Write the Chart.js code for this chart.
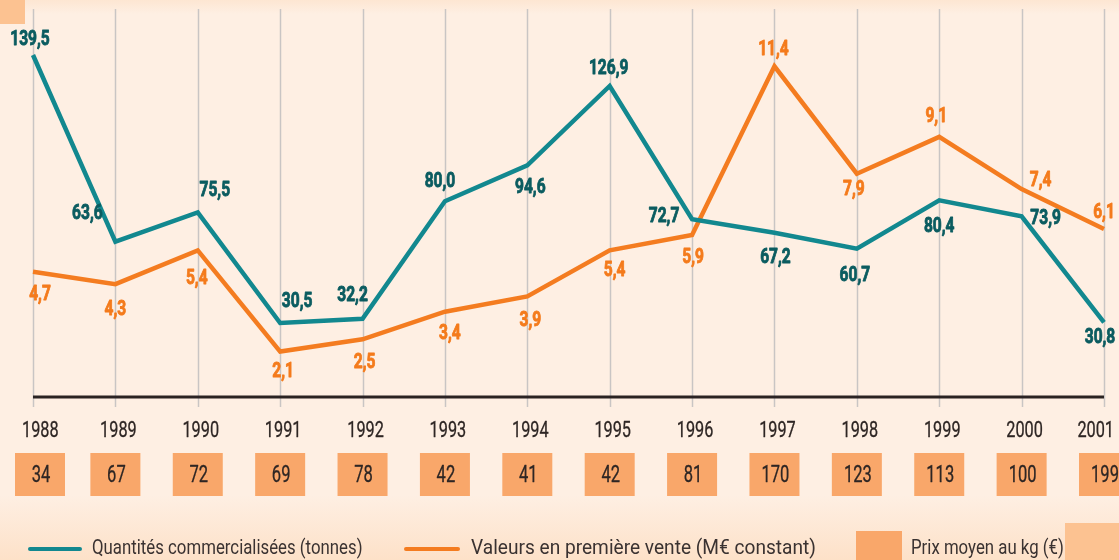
<!DOCTYPE html>
<html>
<head>
<meta charset="utf-8">
<script src="https://cdn.jsdelivr.net/npm/chart.js@4/dist/chart.umd.min.js"></script>
<style>
  html, body { margin: 0; padding: 0; background: #feefe3; }
  #wrap { width: 1119px; height: 560px; position: relative; }
</style>
</head>
<body>
<div id="wrap"><canvas id="chart" width="1119" height="560"></canvas></div>
<script>
const years = ["1988", "1989", "1990", "1991", "1992", "1993", "1994", "1995", "1996", "1997", "1998", "1999", "2000", "2001"];
const quantites = [139.5, 63.6, 75.5, 30.5, 32.2, 80.0, 94.6, 126.9, 72.7, 67.2, 60.7, 80.4, 73.9, 30.8];
const valeurs = [4.7, 4.3, 5.4, 2.1, 2.5, 3.4, 3.9, 5.4, 5.9, 11.4, 7.9, 9.1, 7.4, 6.1];
const prixKg = [34, 67, 72, 69, 78, 42, 41, 42, 81, 170, 123, 113, 100, 199];

const TEAL = "#12888f";
const TEAL_TXT = "#0b5c60";
const ORANGE = "#f47c20";
const ORANGE_TXT = "#f47b1c";
const BOX = "#f9a76a";
const INK = "#2e2624";

// where each value label sits relative to its point (px)
const offsQ = [[-3,-15],[-28,-28],[17,-22],[17,-21],[-10,-23],[-5,-20],[3,22],[-1,-17],[-28,-2],[1,25],[-2,27],[0,26],[24,2],[-4,15]];
const offsV = [[7,23],[0,26],[-1,28],[3,20],[2,23],[5,22],[3,24],[5,20],[1,23],[-1,-17],[-3,16],[-3,-20],[19,-8],[0,-16]];

function fmt(v) { return v.toFixed(1).replace(".", ","); }

// condensed text: draw with a horizontal squeeze
function txt(ctx, s, x, y, font, color, sx, align, thick) {
  ctx.save();
  ctx.font = font;
  ctx.fillStyle = color;
  ctx.textBaseline = "middle";
  ctx.textAlign = "left";
  const w = ctx.measureText(s).width * sx;
  const left = align === "left" ? x : align === "right" ? x - w : x - w / 2;
  ctx.translate(left, y);
  ctx.scale(sx, 1);
  ctx.fillText(s, 0, 0);
  if (thick) {
    ctx.strokeStyle = color;
    ctx.lineWidth = thick;
    ctx.lineJoin = "round";
    ctx.strokeText(s, 0, 0);
  }
  ctx.restore();
}

const decor = {
  id: "decor",
  beforeDraw(chart) {
    const ctx = chart.ctx;
    ctx.save();
    ctx.fillStyle = "#feefe3";
    ctx.fillRect(0, 0, 1119, 560);
    let g = ctx.createLinearGradient(0, 0, 0, 14);
    g.addColorStop(0, "#fde6d2");
    g.addColorStop(1, "#feefe3");
    ctx.fillStyle = g;
    ctx.fillRect(0, 0, 1119, 14);
    g = ctx.createLinearGradient(0, 495, 0, 560);
    g.addColorStop(0, "#feefe3");
    g.addColorStop(1, "#fde1c8");
    ctx.fillStyle = g;
    ctx.fillRect(0, 495, 1119, 65);
    ctx.fillStyle = "#fcc291";
    ctx.fillRect(0, 0, 25, 24);
    ctx.fillRect(1065, 523, 54, 37);
    ctx.restore();
  },
  beforeDatasetsDraw(chart) {
    const ctx = chart.ctx;
    const xs = chart.scales.x;
    const area = chart.chartArea;
    ctx.save();
    ctx.strokeStyle = "#c9c5c4";
    ctx.lineWidth = 1.5;
    years.forEach((y, i) => {
      const x = Math.round(xs.getPixelForValue(i)) + 0.5;
      ctx.beginPath();
      ctx.moveTo(x, area.top);
      ctx.lineTo(x, area.bottom + 9);
      ctx.stroke();
    });
    ctx.strokeStyle = "#2a2322";
    ctx.lineWidth = 3;
    ctx.beginPath();
    ctx.moveTo(xs.getPixelForValue(0), area.bottom - 1);
    ctx.lineTo(xs.getPixelForValue(years.length - 1), area.bottom - 1);
    ctx.stroke();
    ctx.restore();
  },
  afterDatasetsDraw(chart) {
    const ctx = chart.ctx;
    const xs = chart.scales.x;
    const bold = "bold 21px Roboto";
    const reg = "22px Roboto";
    [[0, quantites, offsQ, TEAL_TXT], [1, valeurs, offsV, ORANGE_TXT]].forEach(([di, vals, offs, col]) => {
      const meta = chart.getDatasetMeta(di);
      meta.data.forEach((pt, i) => {
        txt(ctx, fmt(vals[i]), pt.x + offs[i][0], pt.y + offs[i][1], bold, col, 0.74, "center", 0.9);
      });
    });
    years.forEach((y, i) => {
      const gx = xs.getPixelForValue(i);
      if (i === 0) txt(ctx, y, 22, 431, reg, INK, 0.74, "left", 0.3);
      else if (i === years.length - 1) txt(ctx, y, 1114, 431, reg, INK, 0.74, "right", 0.3);
      else txt(ctx, y, gx + 3, 431, reg, INK, 0.74, "center", 0.3);
      const left = Math.max(15, gx - 25);
      ctx.fillStyle = BOX;
      ctx.fillRect(left, 453, 50, 43);
      txt(ctx, String(prixKg[i]), left + 25 + 1, 476, "23px Roboto", INK, 0.72, "center", 0.3);
    });
    // legend
    ctx.save();
    ctx.lineCap = "round";
    ctx.lineWidth = 4;
    ctx.strokeStyle = TEAL;
    ctx.beginPath(); ctx.moveTo(30, 549); ctx.lineTo(80, 549); ctx.stroke();
    ctx.strokeStyle = ORANGE;
    ctx.beginPath(); ctx.moveTo(406, 549); ctx.lineTo(458, 549); ctx.stroke();
    ctx.fillStyle = BOX;
    ctx.fillRect(856, 531, 46, 29);
    ctx.restore();
    const lf = "21px Roboto";
    txt(ctx, chart.data.datasets[0].label, 92, 549, lf, "#3a3231", 0.8, "left");
    txt(ctx, chart.data.datasets[1].label, 471, 549, lf, "#3a3231", 0.91, "left");
    txt(ctx, "Prix moyen au kg (€)", 911, 549, lf, "#3a3231", 0.8, "left");
  }
};

new Chart(document.getElementById("chart").getContext("2d"), {
  type: "line",
  data: {
    labels: years,
    datasets: [
      {
        label: "Quantités commercialisées (tonnes)",
        data: quantites,
        yAxisID: "yQ",
        borderColor: TEAL,
        borderWidth: 4.5,
        pointRadius: 0,
        tension: 0,
        borderJoinStyle: "miter",
        clip: false
      },
      {
        label: "Valeurs en première vente (M€ constant)",
        data: valeurs,
        yAxisID: "yV",
        borderColor: ORANGE,
        borderWidth: 4.5,
        pointRadius: 0,
        tension: 0,
        borderJoinStyle: "miter",
        clip: false
      }
    ]
  },
  options: {
    responsive: false,
    animation: false,
    layout: { padding: { top: 9, bottom: 162, left: 33, right: 15 } },
    plugins: { legend: { display: false }, tooltip: { enabled: false } },
    scales: {
      x: { display: false, offset: false },
      yQ: { display: false, min: 0, max: 158.2 },
      yV: { display: false, min: 0.587, max: 13.27 }
    }
  },
  plugins: [decor]
});
</script>
</body>
</html>
